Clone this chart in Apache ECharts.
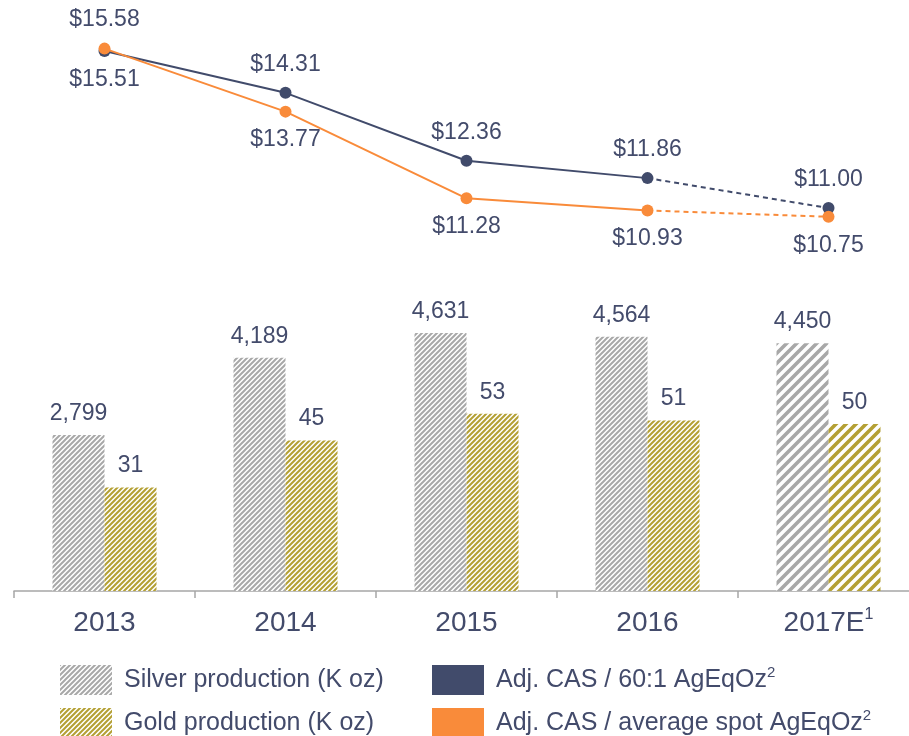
<!DOCTYPE html>
<html>
<head>
<meta charset="utf-8">
<title>Production and Adj. CAS</title>
<script src="https://cdn.jsdelivr.net/npm/echarts@6/dist/echarts.min.js"></script>
<style>
  html, body { margin: 0; padding: 0; background: #fff; }
  #chart { width: 909px; height: 736px; }
</style>
</head>
<body>
<div id="chart"></div>
<script>
  // data
  var years = ['2013', '2014', '2015', '2016', '2017E'];
  var silverProduction = [2799, 4189, 4631, 4564, 4450];
  var goldProduction = [31, 45, 53, 51, 50];
  var casRatio = [15.51, 14.31, 12.36, 11.86, 11.00];
  var casSpot = [15.58, 13.77, 11.28, 10.93, 10.75];

  var textColor = '#434b6b';
  var navy = '#414b6b';
  var orange = '#f98b3a';
  var fontFamily = "'Liberation Sans', Arial, sans-serif";

  // diagonal hatch tile, used as a fill pattern
  function hatch(color, size, width) {
    var c = document.createElement('canvas');
    c.width = size;
    c.height = size;
    var ctx = c.getContext('2d');
    ctx.fillStyle = '#fff';
    ctx.fillRect(0, 0, size, size);
    ctx.strokeStyle = color;
    ctx.lineWidth = width;
    ctx.beginPath();
    ctx.moveTo(-size, size * 2); ctx.lineTo(size * 2, -size);
    ctx.moveTo(-size * 2, size * 2); ctx.lineTo(size, -size);
    ctx.moveTo(0, size * 2); ctx.lineTo(size * 3, -size);
    ctx.stroke();
    return { image: c, repeat: 'repeat' };
  }

  var silverFine = hatch('#a8a8a8', 5, 2);
  var goldFine = hatch('#b4a034', 5, 2);
  var silverWide = hatch('#a8a8a8', 10, 3.6);
  var goldWide = hatch('#b4a034', 10, 3.6);

  var last = years.length - 1;

  function barData(values, wide) {
    return values.map(function (v, i) {
      return i === last ? { value: v, itemStyle: { color: wide } } : v;
    });
  }

  // solid part up to 2016, dashed part from 2016 to 2017E
  function solidPart(values, flipFirst, pos) {
    return values.map(function (v, i) {
      if (i === last) return '-';
      if (i === 0 && flipFirst) return { value: v, label: { position: pos } };
      return v;
    });
  }
  function dashedPart(values) {
    return values.map(function (v, i) {
      if (i < last - 1) return '-';
      if (i === last - 1) return { value: v, symbol: 'none', label: { show: false } };
      return v;
    });
  }

  var valueLabel = {
    show: true,
    color: textColor,
    fontFamily: fontFamily,
    fontSize: 23
  };

  var legendBase = {
    orient: 'vertical',
    top: 665,
    height: 90,
    padding: 0,
    itemWidth: 52,
    itemHeight: 30,
    itemGap: 13,
    icon: 'rect',
    textStyle: { color: textColor, fontFamily: fontFamily, fontSize: 25, padding: [0, 0, 0, 7] }
  };

  var chart = echarts.init(document.getElementById('chart'));
  chart.setOption({
    animation: false,
    grid: { left: 14, top: 34, width: 905, bottom: 145, outerBoundsMode: 'none' },
    legend: [
      Object.assign({}, legendBase, {
        left: 60,
        data: ['Silver production (K oz)', 'Gold production (K oz)']
      }),
      Object.assign({}, legendBase, {
        left: 432,
        data: ['Adj. CAS / 60:1 AgEqOz', 'Adj. CAS / average spot AgEqOz'],
        formatter: function (name) { return '{a|' + name + '}{s|2}'; },
        textStyle: {
          color: textColor, fontFamily: fontFamily, fontSize: 25, padding: [0, 0, 0, 7],
          rich: {
            a: { color: textColor, fontFamily: fontFamily, fontSize: 25, lineHeight: 30 },
            s: { color: textColor, fontFamily: fontFamily, fontSize: 15, verticalAlign: 'top', lineHeight: 22 }
          }
        }
      })
    ],
    xAxis: {
      type: 'category',
      data: years,
      axisLine: { lineStyle: { color: '#a6a6a6', width: 1.5 } },
      axisTick: { show: true, interval: 0, length: 7, lineStyle: { color: '#a6a6a6', width: 1.5 } },
      axisLabel: {
        interval: 0,
        margin: 16,
        color: textColor,
        fontFamily: fontFamily,
        fontSize: 28,
        formatter: function (v) { return v === '2017E' ? '{a|' + v + '}{s|1}' : '{a|' + v + '}'; },
        rich: {
          a: { color: textColor, fontFamily: fontFamily, fontSize: 28, lineHeight: 32 },
          s: { color: textColor, fontFamily: fontFamily, fontSize: 16, verticalAlign: 'top', lineHeight: 22 }
        }
      }
    },
    yAxis: [
      { type: 'value', show: false, min: 0, max: 10000, splitLine: { show: false } },
      { type: 'value', show: false, min: 0, max: 10000 / 60, splitLine: { show: false } },
      { type: 'value', show: false, min: 0, max: 16, splitLine: { show: false } }
    ],
    series: [
      {
        name: 'Silver production (K oz)',
        type: 'bar',
        yAxisIndex: 0,
        barWidth: 52,
        barGap: '0%',
        itemStyle: { color: silverFine },
        label: Object.assign({ position: 'top', distance: 10 }, valueLabel, {
          formatter: function (p) { return p.value.toLocaleString('en-US'); }
        }),
        data: barData(silverProduction, silverWide)
      },
      {
        name: 'Gold production (K oz)',
        type: 'bar',
        yAxisIndex: 1,
        barWidth: 52,
        barGap: '0%',
        itemStyle: { color: goldFine },
        label: Object.assign({ position: 'top', distance: 10 }, valueLabel),
        data: barData(goldProduction, goldWide)
      },
      {
        name: 'Adj. CAS / 60:1 AgEqOz',
        type: 'line',
        yAxisIndex: 2,
        z: 4,
        symbol: 'circle',
        symbolSize: 12,
        color: navy,
        lineStyle: { color: navy, width: 2 },
        label: Object.assign({ position: 'top', distance: 11 }, valueLabel, {
          formatter: function (p) { return '$' + p.value.toFixed(2); }
        }),
        data: solidPart(casRatio, true, 'bottom')
      },
      {
        name: 'Adj. CAS / 60:1 AgEqOz',
        type: 'line',
        yAxisIndex: 2,
        z: 4,
        symbol: 'circle',
        symbolSize: 12,
        color: navy,
        lineStyle: { color: navy, width: 2, type: [5, 4] },
        label: Object.assign({ position: 'top', distance: 11 }, valueLabel, {
          formatter: function (p) { return '$' + p.value.toFixed(2); }
        }),
        data: dashedPart(casRatio)
      },
      {
        name: 'Adj. CAS / average spot AgEqOz',
        type: 'line',
        yAxisIndex: 2,
        z: 5,
        symbol: 'circle',
        symbolSize: 12,
        color: orange,
        lineStyle: { color: orange, width: 2 },
        label: Object.assign({ position: 'bottom', distance: 11 }, valueLabel, {
          formatter: function (p) { return '$' + p.value.toFixed(2); }
        }),
        data: solidPart(casSpot, true, 'top')
      },
      {
        name: 'Adj. CAS / average spot AgEqOz',
        type: 'line',
        yAxisIndex: 2,
        z: 5,
        symbol: 'circle',
        symbolSize: 12,
        color: orange,
        lineStyle: { color: orange, width: 2, type: [5, 4] },
        label: Object.assign({ position: 'bottom', distance: 11 }, valueLabel, {
          formatter: function (p) { return '$' + p.value.toFixed(2); }
        }),
        data: dashedPart(casSpot)
      }
    ]
  });
</script>
</body>
</html>
